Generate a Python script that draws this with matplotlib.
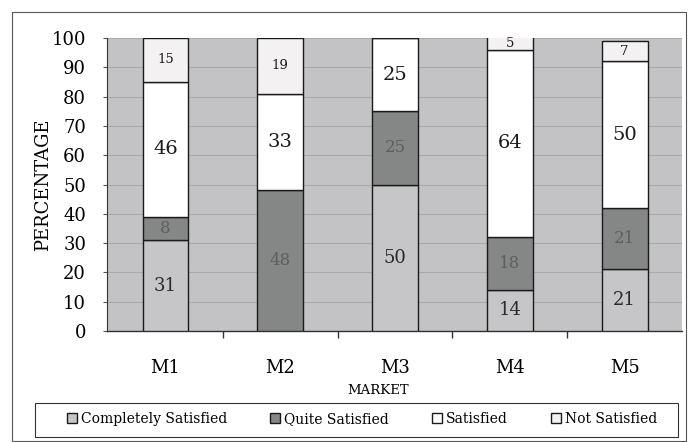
import numpy as np
import matplotlib
matplotlib.use("Agg")
import matplotlib.pyplot as plt
from matplotlib.patches import Rectangle

# market satisfaction survey, percentage per market
markets = ["M1", "M2", "M3", "M4", "M5"]
completely = [31, 0, 50, 14, 21]
quite = [8, 48, 25, 18, 21]
satisfied = [46, 33, 25, 64, 50]
not_satisfied = [15, 19, 0, 5, 7]

series = [
    ("Completely Satisfied", completely, "#c6c6c8", "#2a2a2a", 13),
    ("Quite Satisfied", quite, "#858786", "#5c5f5c", 12),
    ("Satisfied", satisfied, "#ffffff", "#1a1a1a", 14),
    ("Not Satisfied", not_satisfied, "#f3f1f1", "#1a1a1a", 9.5),
]

plt.rcParams["font.family"] = "DejaVu Serif"

fig = plt.figure(figsize=(6.91, 4.42), dpi=100)
ax = fig.add_axes([107 / 691, 1 - 331 / 442, 575 / 691, 293 / 442])
ax.set_facecolor("#c3c2c4")

x = np.arange(len(markets))
width = 0.4
bottom = np.zeros(len(markets))
handles = []
for name, vals, color, tcolor, fs in series:
    vals = np.array(vals, dtype=float)
    bars = ax.bar(x, vals, width, bottom=bottom, color=color,
                  edgecolor="#1a1a1a", linewidth=1.0, zorder=3, label=name)
    handles.append(bars)
    for xi, b, v in zip(x, bottom, vals):
        if v > 0:
            ax.text(xi, min(b + v / 2, (b + 100) / 2), f"{int(v)}",
                    ha="center", va="center", fontsize=fs, color=tcolor,
                    zorder=4)
    bottom += vals

ax.set_ylim(0, 100)
ax.set_xlim(-0.51, 4.5)
ax.set_yticks(range(0, 101, 10))
ax.yaxis.grid(True, color="#a9a8aa", linewidth=0.8, zorder=1)
ax.tick_params(axis="y", labelsize=13, length=3, color="#555555", pad=12)

ax.set_xticks(x)
ax.set_xticklabels(markets, fontsize=13)
ax.set_xticks(np.arange(0.5, 4.5, 1), minor=True)
ax.tick_params(axis="x", which="major", length=0, pad=20)
ax.tick_params(axis="x", which="minor", length=5, width=1, color="#333333")

for side in ["top", "right"]:
    ax.spines[side].set_visible(False)
ax.spines["left"].set_color("#333333")
ax.spines["bottom"].set_color("#333333")
ax.spines["bottom"].set_linewidth(1.0)

ax.set_ylabel("PERCENTAGE", fontsize=13, labelpad=0)
fig.text(378 / 691, 1 - 390 / 442, "MARKET", ha="center", va="center",
         fontsize=9.5)

# legend entries, boxed separately so the frame spans the chart width
fig.legend(handles=handles, loc="center", ncol=4,
           bbox_to_anchor=(362 / 691, 1 - 419 / 442),
           fontsize=10, frameon=False, handlelength=0.7, handleheight=0.7,
           handletextpad=0.3, columnspacing=3.1, borderaxespad=0)
fig.patches.append(Rectangle((35 / 691, 1 - 437 / 442), 643 / 691, 34 / 442,
                             transform=fig.transFigure, fill=False,
                             edgecolor="#333333", linewidth=0.8))

# outer frame around the whole chart
fig.patches.append(Rectangle((12 / 691, 1 / 442), 674 / 691, 429 / 442,
                             transform=fig.transFigure, fill=False,
                             edgecolor="#555555", linewidth=0.8))

fig.savefig("out.png", dpi=100)
